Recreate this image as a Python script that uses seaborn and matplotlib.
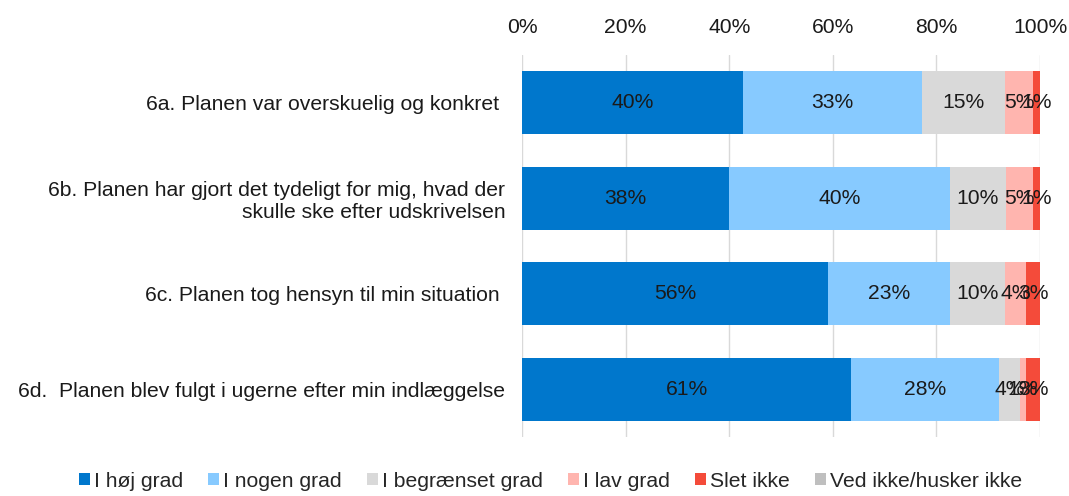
import matplotlib
matplotlib.use("Agg")
import matplotlib.pyplot as plt
from matplotlib.patches import Patch
import seaborn as sns
import numpy as np
import pandas as pd

sns.set_theme(style="white")
plt.rcParams["font.family"] = ["Liberation Sans", "DejaVu Sans"]

FS = 15.2

# Questions (y categories)
questions = [
    "6a. Planen var overskuelig og konkret ",
    "6b. Planen har gjort det tydeligt for mig, hvad der\nskulle ske efter udskrivelsen",
    "6c. Planen tog hensyn til min situation ",
    "6d.  Planen blev fulgt i ugerne efter min indlæggelse",
]

# Answer categories and colours
answers = ["I høj grad", "I nogen grad", "I begrænset grad", "I lav grad", "Slet ikke", "Ved ikke/husker ikke"]
colors = ["#0077CC", "#87CAFF", "#D9D9D9", "#FFB5AF", "#F44B3A", "#BFBFBF"]

# Answer shares per question (%)
hoej_grad = [40.4, 37.8, 56.4, 61.4]
nogen_grad = [32.9, 40.4, 22.6, 27.6]
begraenset_grad = [15.2, 10.2, 10.2, 3.8]
lav_grad = [5.1, 5.0, 3.8, 1.2]
slet_ikke = [1.3, 1.3, 2.6, 2.6]
ved_ikke = [0.0, 0.0, 0.0, 0.0]

values = np.array([hoej_grad, nogen_grad, begraenset_grad, lav_grad, slet_ikke, ved_ikke])
# 100% stacked: normalise each question to its total
shares = values / values.sum(axis=0) * 100
cum = shares.cumsum(axis=0)

fig = plt.figure(figsize=(10.69, 4.96), dpi=100)
ax = fig.add_axes([0.4883, 0.119, 0.4846, 0.770])

# Draw cumulative bars from the back (full width) to the front
for i in reversed(range(len(answers))):
    df = pd.DataFrame({"Spørgsmål": questions, "Andel": cum[i]})
    sns.barplot(df, x="Andel", y="Spørgsmål", orient="h", color=colors[i],
                width=0.66, ax=ax, saturation=1, edgecolor="none", zorder=2)

# Segment labels
for i in range(len(answers) - 1):
    for j in range(len(questions)):
        if values[i, j] <= 0:
            continue
        ax.text(cum[i, j] - shares[i, j] / 2, j, f"{values[i, j]:.0f}%",
                ha="center", va="center", fontsize=FS, color="#1a1a1a", zorder=3)

ax.set_xlim(0, 100)
ax.set_ylim(3.5, -0.5)
ax.set_xticks(np.arange(0, 101, 20))
ax.set_xticklabels([f"{t}%" for t in range(0, 101, 20)])
ax.xaxis.tick_top()
ax.tick_params(axis="x", length=0, pad=13, labelsize=FS, colors="#1a1a1a")
ax.tick_params(axis="y", length=0, pad=12, labelsize=FS, colors="#1a1a1a")
for lbl in ax.get_yticklabels():
    lbl.set_horizontalalignment("right")
    lbl.set_multialignment("right")
ax.set_xlabel("")
ax.set_ylabel("")
ax.grid(axis="x", color="#D9D9D9", linewidth=1, zorder=0)
ax.set_axisbelow(True)
for s in ax.spines.values():
    s.set_visible(False)

handles = [Patch(facecolor=c, edgecolor="none") for c in colors]
fig.legend(handles, answers, loc="lower center", bbox_to_anchor=(0.515, -0.028), ncol=6,
           frameon=False, fontsize=FS, handlelength=0.5, handleheight=0.5,
           handletextpad=0.2, columnspacing=1.2)

fig.savefig("out.png", dpi=100)
